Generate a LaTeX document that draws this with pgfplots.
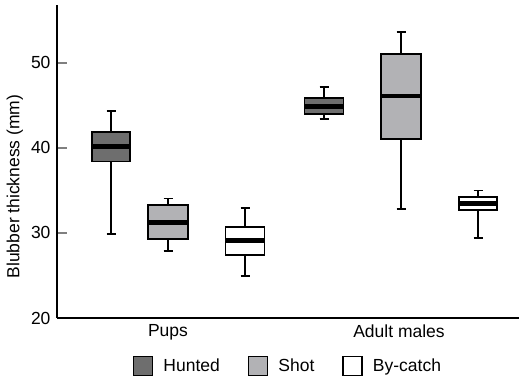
\documentclass[border=0pt]{standalone}
\usepackage{fontspec}
\setmainfont{Liberation Sans}
\usepackage{pgfplots}
\pgfplotsset{compat=1.18}
\usepgfplotslibrary{statistics}
\definecolor{hunted}{HTML}{6E6E6E}
\definecolor{shot}{HTML}{B2B2B5}
\begin{document}
\begin{tikzpicture}
\useasboundingbox (0,0) rectangle (519pt,379pt);
\begin{axis}[
  at={(57pt,61pt)}, anchor=south west,
  scale only axis, width=462pt, height=313pt,
  font=\fontsize{17.5}{21}\selectfont,
  xmin=57, xmax=519, ymin=20, ymax=56.8,
  axis x line*=bottom, axis y line*=left,
  axis line style={line width=1.6pt},
  ytick={20,30,40,50},
  tick align=inside,
  ytick style={line width=1.6pt},
  major tick length=10pt,
  yticklabel style={xshift=-3pt},
  xtick={168,399}, xticklabels={Pups, Adult males},
  xtick style={draw=none},
  xticklabel style={yshift=-3pt},
  /pgf/number format/assume math mode=true,
  ylabel={Blubber thickness (mm)},
  ylabel style={at={(axis description cs:-0.091,0.42)}, anchor=center},
  legend columns=3,
  legend style={draw=none, fill=none, at={(0.5,-0.115)}, anchor=north,
    /tikz/every even column/.append style={column sep=26pt}},
  legend image code/.code={\draw[#1, line width=1.2pt] (0pt,-9.5pt) rectangle (19pt,9.5pt); \path (27pt,0pt);},
  boxplot/draw direction=y,
  boxplot/every median/.style={line width=4.8pt},
]
\addplot[boxplot prepared={draw position=111, box extend=38, whisker extend=9,
  lower whisker=29.85, lower quartile=38.4, median=40.2, upper quartile=41.85, upper whisker=44.3},
  fill=hunted, draw=black, line width=1.8pt] coordinates {};
\addplot[boxplot prepared={draw position=168, box extend=40, whisker extend=9,
  lower whisker=27.9, lower quartile=29.3, median=31.2, upper quartile=33.3, upper whisker=34.05},
  fill=shot, draw=black, line width=1.8pt] coordinates {};
\addplot[boxplot prepared={draw position=245, box extend=39, whisker extend=9,
  lower whisker=24.9, lower quartile=27.4, median=29.1, upper quartile=30.7, upper whisker=32.9},
  fill=white, draw=black, line width=1.8pt] coordinates {};
\addplot[boxplot prepared={draw position=324, box extend=39, whisker extend=9,
  lower whisker=43.4, lower quartile=44.0, median=44.9, upper quartile=45.85, upper whisker=47.2},
  fill=hunted, draw=black, line width=1.8pt, forget plot] coordinates {};
\addplot[boxplot prepared={draw position=401, box extend=40, whisker extend=9,
  lower whisker=32.8, lower quartile=41.06, median=46.1, upper quartile=51.06, upper whisker=53.6},
  fill=shot, draw=black, line width=1.8pt, forget plot] coordinates {};
\addplot[boxplot prepared={draw position=478, box extend=38, whisker extend=9,
  lower whisker=29.45, lower quartile=32.7, median=33.45, upper quartile=34.2, upper whisker=35.0},
  fill=white, draw=black, line width=1.8pt, forget plot] coordinates {};
\legend{Hunted, Shot, By-catch}
\end{axis}
\end{tikzpicture}
\end{document}
